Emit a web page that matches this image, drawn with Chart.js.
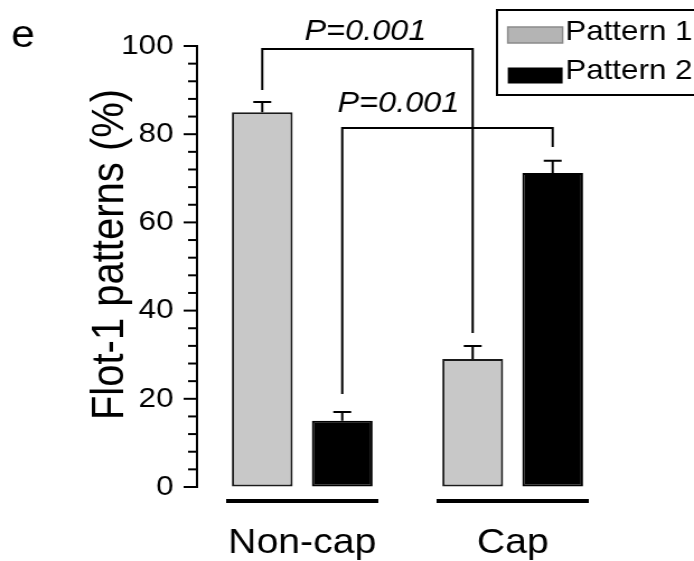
<!DOCTYPE html>
<html>
<head>
<meta charset="utf-8">
<script src="https://cdn.jsdelivr.net/npm/chart.js@4.4.4/dist/chart.umd.min.js"></script>
<style>
  html, body { margin: 0; padding: 0; background: #fff; overflow: hidden; }
  /* the source figure is stretched sideways (~1.12x), text included, so the
     chart is drawn 620 wide and widened with a transform */
  #wrap { width: 620px; height: 561px; transform: scaleX(1.1194); transform-origin: 0 0; }
</style>
</head>
<body>
<div id="wrap"><canvas id="chart"></canvas></div>
<script>
const categories = ['Non-cap', 'Cap'];
const seriesNames = ['Pattern 1', 'Pattern 2'];
const pattern1 = [85, 29];
const pattern1Err = [2.3, 3];
const pattern2 = [15, 71.2];
const pattern2Err = [2, 2.8];
const yMajorTicks = [0, 20, 40, 60, 80, 100];
const yMinorStep = 4;
const pValues = ['P=0.001', 'P=0.001'];

// significance brackets, in data units: dataset joined across the two groups,
// height of the cross bar, where each leg stops, and the P text baseline
const brackets = [
  { dataset: 0, top: 99.3, leftEnd: 90, rightEnd: 34.9, textY: 101.4, textAt: 0.49 },
  { dataset: 1, top: 81.4, leftEnd: 21.1, rightEnd: 77.1, textY: 85.0, textAt: 0.267 }
];

const FONT = '"Liberation Sans", Arial, Helvetica, sans-serif';
const GRAY = '#c8c8c8';
const values = [pattern1, pattern2];
const errors = [pattern1Err, pattern2Err];

const figurePlugin = {
  id: 'figure',
  afterDatasetsDraw(chart) {
    const ctx = chart.ctx;
    const y = chart.scales.y;
    const x = chart.scales.x;
    ctx.save();
    ctx.strokeStyle = '#000';
    ctx.lineWidth = 2;

    // upward-only error bars
    values.forEach((vals, i) => {
      chart.getDatasetMeta(i).data.forEach((bar, j) => {
        const y0 = y.getPixelForValue(vals[j]);
        const y1 = y.getPixelForValue(vals[j] + errors[i][j]);
        ctx.beginPath();
        ctx.moveTo(bar.x, y0);
        ctx.lineTo(bar.x, y1);
        ctx.moveTo(bar.x - 8, y1);
        ctx.lineTo(bar.x + 8, y1);
        ctx.stroke();
      });
    });

    // brackets + P values
    ctx.font = `italic 29px ${FONT}`;
    ctx.fillStyle = '#000';
    ctx.textAlign = 'center';
    ctx.textBaseline = 'alphabetic';
    brackets.forEach((b, k) => {
      const bars = chart.getDatasetMeta(b.dataset).data;
      const xl = bars[0].x, xr = bars[1].x;
      const yt = y.getPixelForValue(b.top);
      ctx.beginPath();
      ctx.moveTo(xl, y.getPixelForValue(b.leftEnd));
      ctx.lineTo(xl, yt);
      ctx.lineTo(xr, yt);
      ctx.lineTo(xr, y.getPixelForValue(b.rightEnd));
      ctx.stroke();
      ctx.fillText(pValues[k], xl + (xr - xl) * b.textAt, y.getPixelForValue(b.textY));
    });

    // thick line under each group
    ctx.lineWidth = 4;
    categories.forEach((c, j) => {
      const cx = x.getPixelForValue(j);
      const ly = chart.chartArea.bottom + 14;
      ctx.beginPath();
      ctx.moveTo(cx - 68, ly);
      ctx.lineTo(cx + 68, ly);
      ctx.stroke();
    });
    ctx.restore();
  },
  afterDraw(chart) {
    const ctx = chart.ctx;
    const y = chart.scales.y;
    const left = chart.chartArea.left;
    ctx.save();
    ctx.strokeStyle = '#000';
    ctx.fillStyle = '#000';

    // y ticks, long at labelled values
    ctx.lineWidth = 2;
    for (let v = 0; v <= 100; v += yMinorStep) {
      const len = yMajorTicks.includes(v) ? 12 : 8;
      const py = y.getPixelForValue(v);
      ctx.beginPath();
      ctx.moveTo(left - len, py);
      ctx.lineTo(left + 1, py);
      ctx.stroke();
    }

    // axis title
    ctx.save();
    ctx.translate(110, 254.5);
    ctx.rotate(-Math.PI / 2);
    ctx.font = `40px ${FONT}`;
    ctx.textAlign = 'center';
    ctx.textBaseline = 'alphabetic';
    ctx.fillText('Flot-1 patterns (%)', 0, 0);
    ctx.restore();

    // panel letter
    ctx.font = `38px ${FONT}`;
    ctx.textAlign = 'center';
    ctx.textBaseline = 'alphabetic';
    ctx.fillText('e', 20.5, 46.5);

    // legend box, right edge runs off the canvas like the source
    ctx.lineWidth = 2;
    ctx.strokeRect(444, 10, 220, 85);
    const rows = [{ cy: 35, base: 40 }, { cy: 75.5, base: 78.5 }];
    chart.data.datasets.forEach((ds, i) => {
      const r = rows[i];
      if (i === 0) {
        ctx.fillStyle = '#b4b4b4';
        ctx.fillRect(453.6, r.cy - 8, 49, 16);
        ctx.strokeStyle = '#8a8a8a';
        ctx.lineWidth = 1.5;
        ctx.strokeRect(453.6, r.cy - 8, 49, 16);
      } else {
        ctx.fillStyle = '#000';
        ctx.fillRect(453.6, r.cy - 8, 49, 16);
      }
      ctx.fillStyle = '#000';
      ctx.font = `28px ${FONT}`;
      ctx.textAlign = 'left';
      ctx.fillText(ds.label, 505, r.base);
    });
    ctx.restore();
  }
};

new Chart(document.getElementById('chart'), {
  type: 'bar',
  data: {
    labels: categories,
    datasets: [
      {
        label: seriesNames[0],
        data: pattern1,
        backgroundColor: GRAY,
        borderColor: '#1a1a1a',
        borderWidth: 2,
        borderSkipped: false
      },
      {
        label: seriesNames[1],
        data: pattern2,
        backgroundColor: '#000',
        borderColor: '#000',
        borderWidth: 2,
        borderSkipped: false
      }
    ]
  },
  options: {
    responsive: true,
    maintainAspectRatio: false,
    animation: false,
    events: [],
    datasets: { bar: { categoryPercentage: 0.76, barPercentage: 0.76 } },
    layout: { padding: { top: 46, right: 68, bottom: 0, left: 0 } },
    scales: {
      x: {
        grid: { display: false, drawTicks: false },
        border: { display: false },
        ticks: { color: '#000', font: { family: FONT, size: 35 }, padding: 35 },
        afterFit(scale) { scale.height = 74; }
      },
      y: {
        min: 0,
        max: 100,
        grid: { display: true, drawOnChartArea: false, drawTicks: true, tickLength: 12, color: 'rgba(0,0,0,0)' },
        border: { display: true, color: '#000', width: 2 },
        ticks: {
          stepSize: yMinorStep,
          autoSkip: false,
          padding: 9,
          color: '#000',
          font: { family: FONT, size: 28 },
          callback: v => (yMajorTicks.includes(v) ? v : '')
        },
        afterFit(scale) { scale.width = 176; }
      }
    },
    plugins: {
      legend: { display: false },
      tooltip: { enabled: false }
    }
  },
  plugins: [figurePlugin]
});
</script>
</body>
</html>
